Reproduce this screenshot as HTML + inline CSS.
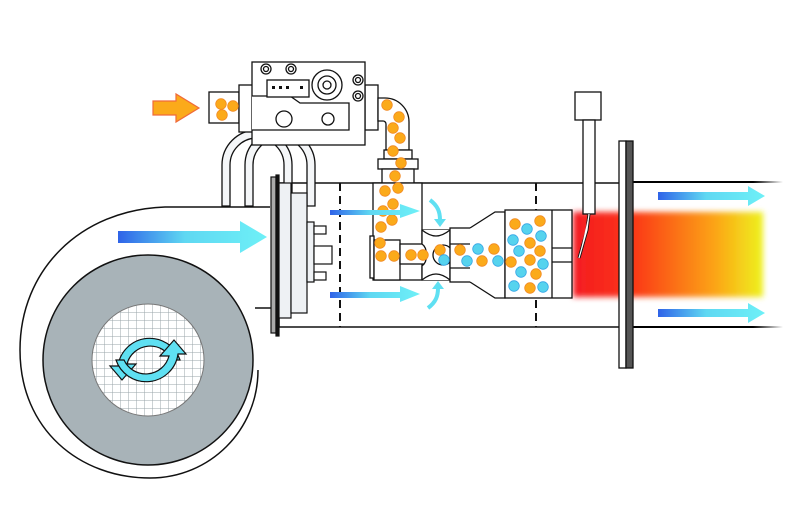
<!DOCTYPE html>
<html><head><meta charset="utf-8"><style>html,body{margin:0;padding:0;background:#fff}svg{display:block}</style></head>
<body>
<svg width="800" height="507" viewBox="0 0 800 507" xmlns="http://www.w3.org/2000/svg">
<defs>
<linearGradient id="bl" x1="0" x2="1"><stop offset="0" stop-color="#2f63e8"/><stop offset="0.45" stop-color="#5fd8f2"/><stop offset="1" stop-color="#6ef0f7"/></linearGradient>
<linearGradient id="fl" x1="0" x2="1"><stop offset="0" stop-color="#f41c22"/><stop offset="0.3" stop-color="#fb3317"/><stop offset="0.45" stop-color="#fb5a12"/><stop offset="0.75" stop-color="#fca516"/><stop offset="1" stop-color="#eef21e"/></linearGradient>
<linearGradient id="fo" x1="0" x2="1"><stop offset="0" stop-color="#000"/><stop offset="0.8" stop-color="#000"/><stop offset="1" stop-color="#000" stop-opacity="0"/></linearGradient>
<linearGradient id="or" x1="0" x2="1"><stop offset="0" stop-color="#fbb52a"/><stop offset="1" stop-color="#fba018"/></linearGradient>
<pattern id="grid" width="8" height="8" patternUnits="userSpaceOnUse"><rect width="8" height="8" fill="#fff"/><path d="M0 0H8M0 0V8" stroke="#9aa4aa" stroke-width="1"/></pattern>
<filter id="blur"><feGaussianBlur stdDeviation="3"/></filter>
<g id="od"><circle r="5.3" fill="#fbaa1a" stroke="#f28a24" stroke-width="0.8"/></g>
<g id="bd"><circle r="5.3" fill="#56d3ee" stroke="#36a6e6" stroke-width="0.8"/></g>
</defs>
<g stroke="#111" stroke-width="1.5" fill="none">
<!-- fan volute -->
<path d="M270 207 L165 207 C80 210 20 270 20 350 C20 430 80 478 150 478 C210 478 258 430 258 370" fill="#fff"/>
<path d="M255 308 L272 308"/>
<circle cx="148" cy="360" r="105" fill="#a8b3b8"/>
<circle cx="148" cy="360" r="56" fill="url(#grid)" stroke="#777" stroke-width="1"/>
</g>
<!-- rotation arrows -->
<g stroke="#111" stroke-width="1.2" fill="#5fe0f2">
<path d="M118 366 A32 32 0 0 1 180 360 L172 360 A24 24 0 0 0 127 364 L136 364 L122 380 L110 366 Z"/>
<path d="M178 354 A32 32 0 0 1 116 360 L124 360 A24 24 0 0 0 169 356 L160 356 L174 340 L186 354 Z"/>
</g>
<!-- tube -->
<g stroke="#111" stroke-width="1.5" fill="none">
<rect x="279" y="183" width="342" height="144" fill="#fff"/>
<path d="M340 183V327M536 183V327" stroke-dasharray="8 5" stroke-width="2"/>
</g>
<!-- flame -->
<rect x="573" y="212" width="190" height="85" fill="url(#fl)" filter="url(#blur)"/>
<!-- right tube -->
<rect x="633" y="181" width="150" height="2" fill="url(#fo)"/>
<rect x="633" y="326" width="150" height="2" fill="url(#fo)"/>
<g stroke="#111" stroke-width="1.3">
<rect x="619" y="141" width="7" height="227" fill="#fff"/>
<rect x="626" y="141" width="7" height="227" fill="#555"/>
</g>
<!-- electrode -->
<g stroke="#111" stroke-width="1.3" fill="#fff">
<rect x="575" y="92" width="26" height="28"/>
<rect x="583" y="120" width="12" height="94"/>
<path d="M589 214 L587 230 L579 258" stroke="#111" stroke-width="3"/>
<path d="M589 214 L587 230 L579 258" stroke="#fff" stroke-width="1.2"/>
</g>
<!-- U tubes -->
<g fill="#f4f6f8" stroke="#111" stroke-width="1.3">
<path d="M222 206 V165 A35 35 0 0 1 292 165 V206 H284 V165 A27 27 0 0 0 230 165 V206 Z"/>
<path d="M245 206 V165 A35 35 0 0 1 315 165 V206 H307 V165 A27 27 0 0 0 253 165 V206 Z"/>
</g>
<!-- flange plates -->
<g stroke="#111" stroke-width="1.2">
<rect x="271" y="177" width="5" height="156" fill="#aaa"/>
<rect x="276" y="175" width="3" height="161" fill="#111"/>
<rect x="279" y="183" width="12" height="135" fill="#eef1f4"/>
<rect x="291" y="193" width="16" height="120" fill="#eef1f4"/>
<rect x="307" y="222" width="7" height="60" fill="#eef1f4"/>
<rect x="314" y="226" width="12" height="8" fill="#fff"/>
<rect x="314" y="246" width="18" height="18" fill="#fff"/>
<rect x="314" y="272" width="12" height="8" fill="#fff"/>
</g>
<!-- gas valve -->
<g stroke="#111" stroke-width="1.3" fill="#fff">
<rect x="209" y="92" width="30" height="31"/>
<rect x="239" y="85" width="14" height="47"/>
<rect x="365" y="85" width="13" height="45"/>
<rect x="252" y="62" width="113" height="83"/>
<path d="M252 96 H290 L300 103 H349 V130 H252"/>
<rect x="267" y="80" width="42" height="17"/>
<circle cx="327" cy="85" r="15"/><circle cx="327" cy="85" r="9"/><circle cx="327" cy="85" r="4"/>
<circle cx="266" cy="69" r="5"/><circle cx="266" cy="69" r="2.5"/>
<circle cx="291" cy="69" r="5"/><circle cx="291" cy="69" r="2.5"/>
<circle cx="358" cy="80" r="5"/><circle cx="358" cy="80" r="2.5"/>
<circle cx="358" cy="96" r="5"/><circle cx="358" cy="96" r="2.5"/>
<circle cx="284" cy="119" r="8"/><circle cx="328" cy="119" r="6"/>
</g>
<g fill="#111"><rect x="272" y="86" width="3" height="3"/><rect x="279" y="86" width="3" height="3"/><rect x="286" y="86" width="3" height="3"/><rect x="300" y="86" width="3" height="3"/></g>
<path d="M153 101 H176 V94 L199 108 L176 122 V115 H153 Z" fill="#fbaa1a" stroke="#f06a3a" stroke-width="1.2"/>
<!-- elbow pipe -->
<path d="M378 98 H385 A24 24 0 0 1 409 122 V150 H386 V124 A3 3 0 0 0 383 121 H378 Z" fill="#fff" stroke="#111" stroke-width="1.3"/>
<g stroke="#111" stroke-width="1.3" fill="#fff">
<rect x="384" y="150" width="28" height="9"/>
<rect x="378" y="159" width="40" height="10"/>
<rect x="382" y="169" width="32" height="14"/>
<!-- body -->
<rect x="373" y="183" width="49" height="97"/>
<rect x="370" y="236" width="4" height="42"/>
<rect x="374" y="240" width="26" height="40"/>
<rect x="400" y="244" width="30" height="20"/>
<path d="M422 230 H450 V280 H422 V266 C428 262 428 248 422 244 Z"/>
<path d="M422 230 C432 238 440 238 450 230 M422 280 C432 272 440 272 450 280"/>
<circle cx="443" cy="255" r="10"/>
<rect x="450" y="228" width="52" height="54"/>
<path d="M450 244 H502 M450 268 H502"/>
<path d="M470 228 L495 212 H505 V298 H495 L470 282"/>
<rect x="505" y="210" width="67" height="88"/>
<path d="M552 210 V298 M552 248 H572 M552 262 H572"/>
</g>
<!-- dots -->
<g>
<use href="#od" x="221" y="104"/><use href="#od" x="233" y="106"/><use href="#od" x="222" y="115"/>
<use href="#od" x="387" y="105"/><use href="#od" x="399" y="117"/><use href="#od" x="393" y="128"/><use href="#od" x="400" y="138"/><use href="#od" x="393" y="151"/><use href="#od" x="401" y="163"/><use href="#od" x="395" y="176"/>
<use href="#od" x="385" y="191"/><use href="#od" x="398" y="188"/><use href="#od" x="393" y="204"/><use href="#od" x="383" y="211"/><use href="#od" x="392" y="220"/><use href="#od" x="381" y="227"/><use href="#od" x="380" y="243"/><use href="#od" x="381" y="256"/><use href="#od" x="394" y="256"/><use href="#od" x="411" y="255"/><use href="#od" x="423" y="255"/><use href="#od" x="440" y="250"/>
<use href="#bd" x="444" y="260"/>
<use href="#od" x="460" y="250"/><use href="#bd" x="478" y="249"/><use href="#od" x="494" y="249"/><use href="#bd" x="467" y="261"/><use href="#od" x="482" y="261"/><use href="#bd" x="498" y="261"/>
<use href="#od" x="515" y="224"/><use href="#bd" x="527" y="229"/><use href="#od" x="540" y="221"/><use href="#bd" x="513" y="240"/><use href="#od" x="530" y="243"/><use href="#bd" x="541" y="236"/><use href="#bd" x="519" y="251"/><use href="#od" x="540" y="251"/><use href="#od" x="511" y="262"/><use href="#od" x="530" y="260"/><use href="#bd" x="543" y="264"/><use href="#bd" x="521" y="272"/><use href="#od" x="536" y="274"/><use href="#bd" x="514" y="286"/><use href="#od" x="530" y="288"/><use href="#bd" x="543" y="287"/>
</g>
<!-- blue arrows -->
<g fill="url(#bl)">
<path d="M118 231 H240 V221 L267 237 L240 253 V243 H118 Z"/>
<path d="M330 210 H400 V204 L420 211 L400 218 V215 H330 Z"/>
<path d="M330 292 H400 V286 L420 294 L400 302 V298 H330 Z"/>
<path d="M658 192 H748 V186 L765 196 L748 206 V200 H658 Z"/>
<path d="M658 309 H748 V303 L765 313 L748 323 V317 H658 Z"/>
</g>
<g fill="none" stroke="#5fe0f2" stroke-width="4">
<path d="M430 200 C438 206 440 212 440 220"/>
<path d="M428 308 C436 302 438 296 438 288"/>
</g>
<path d="M434 219 L446 219 L440 227 Z" fill="#5fe0f2"/>
<path d="M432 289 L444 289 L438 281 Z" fill="#5fe0f2"/>
</svg>
</body></html>
